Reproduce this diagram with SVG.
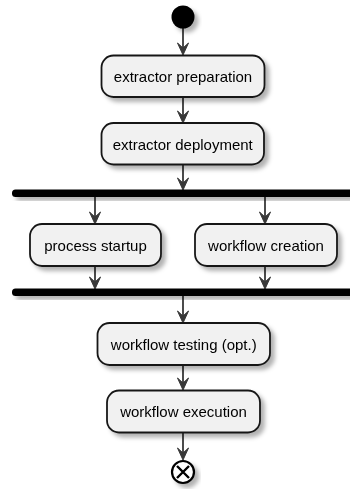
<svg xmlns="http://www.w3.org/2000/svg" width="350" height="489" viewBox="0 0 350 489">
  <defs>
    <filter id="shadow" x="-20%" y="-30%" width="150%" height="180%">
      <feGaussianBlur in="SourceAlpha" stdDeviation="2.2"/>
      <feOffset dx="4" dy="4" result="blur"/>
      <feFlood flood-color="#000" flood-opacity="0.3"/>
      <feComposite in2="blur" operator="in"/>
      <feMerge>
        <feMergeNode/>
        <feMergeNode in="SourceGraphic"/>
      </feMerge>
    </filter>
    <style>
      .action rect { fill: #F1F1F1; stroke: #181818; stroke-width: 1.8; }
      .action text { font-family: "Liberation Sans", Arial, sans-serif; font-size: 15px; fill: #000; text-anchor: middle; dominant-baseline: central; }
      .bar { fill: #000; }
      .edge { fill: none; stroke: #383838; stroke-width: 1.8; }
      .head { fill: #383838; stroke: #383838; stroke-width: 1; stroke-linejoin: round; }
    </style>
  </defs>

  <!-- connectors: straight vertical lines with notched arrowheads -->
  <g id="connectors">
    <path class="edge" d="M183,28 V53"/>
    <polygon class="head" points="177.5,43 183,55 188.5,43 183,48"/>
    <path class="edge" d="M183,97 V121"/>
    <polygon class="head" points="177.5,111 183,123 188.5,111 183,116"/>
    <path class="edge" d="M183,164 V188"/>
    <polygon class="head" points="177.5,178 183,190 188.5,178 183,183"/>
    <path class="edge" d="M95,197 V222"/>
    <polygon class="head" points="89.5,212 95,224 100.5,212 95,217"/>
    <path class="edge" d="M265,197 V222"/>
    <polygon class="head" points="259.5,212 265,224 270.5,212 265,217"/>
    <path class="edge" d="M95,266 V287"/>
    <polygon class="head" points="89.5,277 95,289 100.5,277 95,282"/>
    <path class="edge" d="M265,266 V287"/>
    <polygon class="head" points="259.5,277 265,289 270.5,277 265,282"/>
    <path class="edge" d="M183,296 V321"/>
    <polygon class="head" points="177.5,311 183,323 188.5,311 183,316"/>
    <path class="edge" d="M183,365 V388"/>
    <polygon class="head" points="177.5,378 183,390 188.5,378 183,383"/>
    <path class="edge" d="M183,433 V458"/>
    <polygon class="head" points="177.5,448 183,460 188.5,448 183,453"/>
  </g>

  <!-- start -->
  <g id="start" filter="url(#shadow)">
    <circle cx="183" cy="17" r="11.5" fill="#000"/>
  </g>

  <g id="prep" class="action" filter="url(#shadow)">
    <rect x="101.5" y="55.5" width="163" height="41.5" rx="12" ry="12"/>
    <text x="183" y="76.5">extractor preparation</text>
  </g>

  <g id="deploy" class="action" filter="url(#shadow)">
    <rect x="101.5" y="123" width="162.5" height="41.5" rx="12" ry="12"/>
    <text x="182.75" y="144">extractor deployment</text>
  </g>

  <g id="fork" filter="url(#shadow)">
    <rect class="bar" x="12" y="189.5" width="350" height="7.5" rx="3.5" ry="3.5"/>
  </g>

  <g id="startup" class="action" filter="url(#shadow)">
    <rect x="30" y="224" width="131" height="42" rx="12" ry="12"/>
    <text x="95.5" y="245">process startup</text>
  </g>

  <g id="creation" class="action" filter="url(#shadow)">
    <rect x="195" y="224" width="142" height="42" rx="12" ry="12"/>
    <text x="266" y="245">workflow creation</text>
  </g>

  <g id="join" filter="url(#shadow)">
    <rect class="bar" x="12" y="288.5" width="350" height="7.5" rx="3.5" ry="3.5"/>
  </g>

  <g id="testing" class="action" filter="url(#shadow)">
    <rect x="97.5" y="323" width="172.5" height="42" rx="12" ry="12"/>
    <text x="183.75" y="344">workflow testing (opt.)</text>
  </g>

  <g id="execution" class="action" filter="url(#shadow)">
    <rect x="107" y="390.5" width="153" height="42" rx="12" ry="12"/>
    <text x="183.5" y="411.5">workflow execution</text>
  </g>

  <!-- end -->
  <g id="end" filter="url(#shadow)">
    <circle cx="183" cy="472" r="11" fill="#fff" stroke="#000" stroke-width="2.2"/>
    <path d="M177,466 L189,478 M189,466 L177,478" stroke="#000" stroke-width="2.4" fill="none"/>
  </g>
</svg>
